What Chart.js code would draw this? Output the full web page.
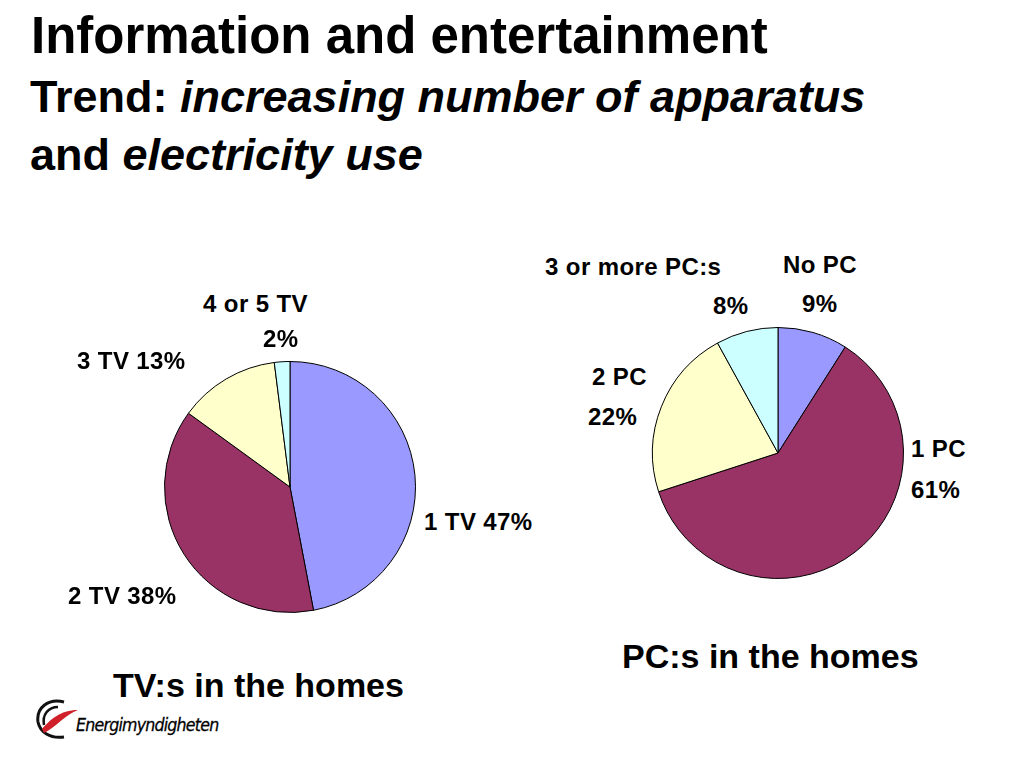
<!DOCTYPE html>
<html>
<head>
<meta charset="utf-8">
<script src="https://cdn.jsdelivr.net/npm/chart.js@4"></script>
<style>
  html, body { margin:0; padding:0; background:#fff; }
  #page { position:relative; width:1024px; height:768px; overflow:hidden;
          font-family:"Liberation Sans", Arial, sans-serif; color:#000; }
  .t { position:absolute; font-weight:bold; white-space:nowrap; line-height:1; }
  .lbl { position:absolute; font-weight:bold; font-size:24px; line-height:1; white-space:nowrap; letter-spacing:0.4px; }
  canvas { position:absolute; }
</style>
</head>
<body>
<div id="page">
  <div class="t" style="left:31px;top:10px;font-size:51px;">Information and entertainment</div>
  <div class="t" style="left:30px;top:74px;font-size:45px;">Trend: <i>increasing number of apparatus</i></div>
  <div class="t" style="left:30px;top:132px;font-size:45px;">and <i>electricity use</i></div>

  <div id="tvWrap" style="position:absolute;left:162px;top:359px;width:256px;height:256px;"><canvas id="tvChart"></canvas></div>
  <div id="pcWrap" style="position:absolute;left:650px;top:325px;width:256px;height:256px;"><canvas id="pcChart"></canvas></div>

  <div class="t" style="left:113px;top:668px;font-size:34px;">TV:s in the homes</div>
  <div class="t" style="left:622px;top:639px;font-size:34px;">PC:s in the homes</div>

  <svg style="position:absolute;left:34px;top:698px;" width="46" height="44" viewBox="0 0 46 44">
    <path d="M30 4 C14 0 2 10 4 24 C6 34 16 41 30 39" fill="none" stroke="#111" stroke-width="3"/>
    <path d="M24 9 C14 9 8 17 10 27" fill="none" stroke="#111" stroke-width="2.5"/>
    <path d="M8 31 C16 22 26 12 44 12 C32 16 22 29 10 35 Z" fill="#d0202a"/>
  </svg>
  <div style="position:absolute;left:76px;top:716px;font-family:'DejaVu Sans',sans-serif;font-style:italic;font-size:18px;line-height:1;letter-spacing:-0.9px;-webkit-text-stroke:0.3px #000;transform:scaleX(0.88);transform-origin:0 0;">Energimyndigheten</div>

  <div id="labels"></div>
</div>
<script>
// ======= Data =======
const tvLabels = ["1 TV", "2 TV", "3 TV", "4 or 5 TV"];
const tvValues = [47, 38, 13, 2];
const pcLabels = ["No PC", "1 PC", "2 PC", "3 or more PC:s"];
const pcValues = [9, 61, 22, 8];
const sliceColors = ["#9999FF", "#993366", "#FFFFCC", "#CCFFFF"];

// ======= Label layout (name line, value line) =======
const tvLabelPos = [
  { inline:true, x:424, y:510 },
  { inline:true, x:68,  y:584 },
  { inline:true, x:77,  y:349 },
  { inline:false, x:203, y:292, vx:263, vy:327 }
];
const pcLabelPos = [
  { inline:false, x:783, y:253, vx:802, vy:292 },
  { inline:false, x:911, y:437, vx:911, vy:478 },
  { inline:false, x:592, y:365, vx:588, vy:405 },
  { inline:false, x:545, y:255, vx:713, vy:294 }
];

const labelsEl = document.getElementById("labels");
function addText(txt, x, y){
  const d = document.createElement("div");
  d.className = "lbl";
  d.style.left = x + "px";
  d.style.top = y + "px";
  d.textContent = txt;
  labelsEl.appendChild(d);
}
function placeLabels(names, values, pos){
  names.forEach((n, i) => {
    const p = pos[i];
    if(p.inline){
      addText(n + " " + values[i] + "%", p.x, p.y);
    } else {
      addText(n, p.x, p.y);
      addText(values[i] + "%", p.vx, p.vy);
    }
  });
}
placeLabels(tvLabels, tvValues, tvLabelPos);
placeLabels(pcLabels, pcValues, pcLabelPos);

// ======= Charts =======
function makePie(id, labels, values){
  return new Chart(document.getElementById(id), {
    type: "pie",
    data: {
      labels,
      datasets: [{
        data: values,
        backgroundColor: sliceColors,
        borderColor: "#000",
        borderWidth: 1
      }]
    },
    options: {
      responsive: true,
      maintainAspectRatio: false,
      animation: false,
      layout: { padding: 2 },
      plugins: { legend: { display:false }, tooltip: { enabled:false } }
    }
  });
}
makePie("tvChart", tvLabels, tvValues);
makePie("pcChart", pcLabels, pcValues);
</script>
</body>
</html>
